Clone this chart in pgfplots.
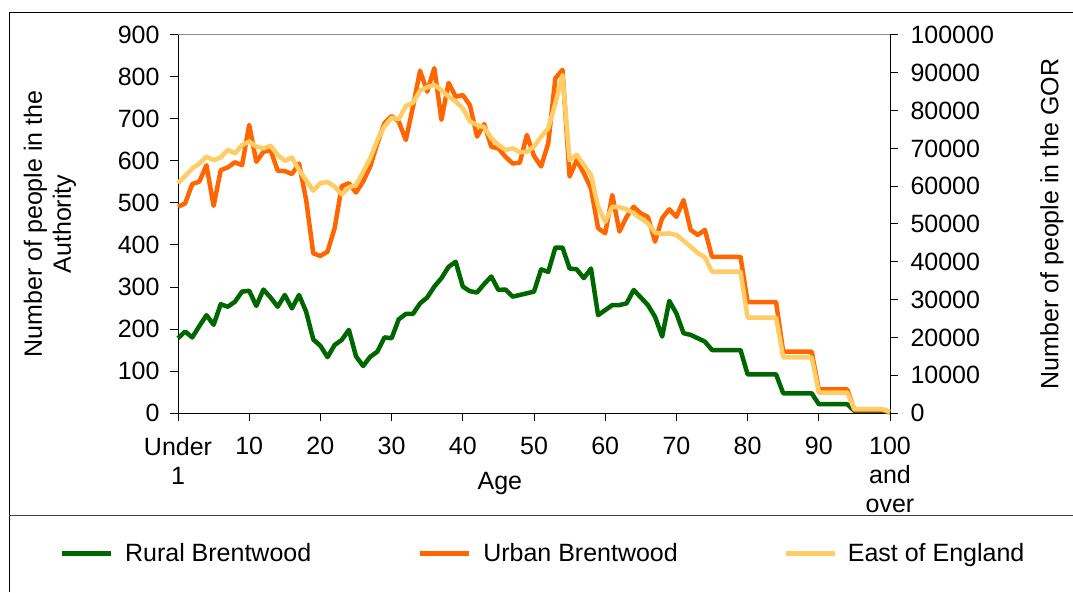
\documentclass[border=0pt]{standalone}
\usepackage{fontspec}
\setmainfont{Liberation Sans}
\usepackage{pgfplots}
\pgfplotsset{compat=1.18}
\definecolor{rural}{HTML}{006600}
\definecolor{urban}{HTML}{FF6600}
\definecolor{east}{HTML}{FFCC66}
\begin{document}
\begin{tikzpicture}[x=1pt,y=1pt,font=\fontsize{25}{29}\selectfont]
\useasboundingbox (0,0) rectangle (1073,592);
\draw[black, line width=1pt] (9,0) -- (9,579) -- (1073,579);
\draw[black!75, line width=1pt] (9,77) -- (1073,77);
\pgfplotsset{
  every axis/.append style={
    scale only axis, width=712pt, height=378pt,
    at={(178pt,179pt)}, anchor=south west,
    xmin=0, xmax=100, clip=false,
    tick align=outside, major tick length=8pt,
    axis line style={line width=1pt},
    every tick/.style={black, line width=1pt},
    /pgf/number format/fixed,
    /pgf/number format/precision=0,
    /pgf/number format/assume math mode=true,
    /pgf/number format/1000 sep={},
    scaled y ticks=false,
  },
  every axis plot/.append style={line width=4.5pt, line join=round, mark=none},
}
\begin{axis}[
  axis y line*=left, axis x line*=bottom,
  ymin=0, ymax=900, ytick={0,100,...,900},
  xtick={0,10,...,100},
  xticklabels={{Under\\1},10,20,30,40,50,60,70,80,90,{100\\and\\over}},
  xticklabel style={align=center, yshift=-13pt},
  yticklabel style={xshift=-7pt},
  xlabel={Age},
  xlabel style={at={(axis description cs:0.452,-0.186)}, anchor=center},
  ylabel={Number of people in the\\Authority},
  ylabel style={align=center, at={(axis description cs:-0.18,0.5)}, anchor=center},
]
\addplot[rural] coordinates {
(0,178)(1,194)(2,180)(3,207)(4,233)(5,210)(6,259)(7,253)(8,265)(9,289)
(10,291)(11,255)(12,294)(13,275)(14,253)(15,281)(16,249)(17,281)(18,241)(19,175)
(20,160)(21,133)(22,162)(23,174)(24,198)(25,135)(26,112)(27,134)(28,146)(29,180)
(30,178)(31,223)(32,236)(33,236)(34,261)(35,275)(36,301)(37,321)(38,348)(39,360)
(40,301)(41,290)(42,287)(43,307)(44,325)(45,293)(46,294)(47,277)(48,281)(49,285)
(50,289)(51,342)(52,336)(53,394)(54,394)(55,344)(56,342)(57,321)(58,344)(59,233)
(60,245)(61,257)(62,257)(63,261)(64,293)(65,275)(66,257)(67,229)(68,182)(69,267)
(70,237)(71,190)(72,186)(73,178)(74,170)(75,150)(76,150)(77,150)(78,150)(79,150)
(80,92)(81,92)(82,92)(83,92)(84,92)(85,47)(86,47)(87,47)(88,47)(89,47)
(90,21)(91,21)(92,21)(93,21)(94,21)(95,5)(96,5)(97,5)(98,5)(99,5)(100,2)
};
\addplot[urban] coordinates {
(0,491)(1,499)(2,545)(3,551)(4,590)(5,493)(6,578)(7,585)(8,597)(9,590)
(10,686)(11,598)(12,622)(13,626)(14,577)(15,576)(16,569)(17,594)(18,507)(19,380)
(20,374)(21,384)(22,440)(23,540)(24,547)(25,525)(26,551)(27,587)(28,642)(29,690)
(30,707)(31,694)(32,650)(33,729)(34,815)(35,765)(36,821)(37,698)(38,786)(39,753)
(40,757)(41,733)(42,658)(43,688)(44,634)(45,630)(46,610)(47,594)(48,596)(49,662)
(50,612)(51,587)(52,642)(53,797)(54,817)(55,563)(56,602)(57,571)(58,535)(59,440)
(60,428)(61,519)(62,432)(63,467)(64,491)(65,475)(66,467)(67,408)(68,464)(69,485)
(70,467)(71,507)(72,436)(73,424)(74,436)(75,372)(76,372)(77,372)(78,372)(79,372)
(80,264)(81,264)(82,264)(83,264)(84,264)(85,146)(86,146)(87,146)(88,146)(89,146)
(90,56)(91,56)(92,56)(93,56)(94,56)(95,7)(96,7)(97,7)(98,7)(99,7)(100,2)
};
\draw[black!45, line width=1pt] (rel axis cs:0,1) -- (rel axis cs:1,1);
\end{axis}
\begin{axis}[
  axis y line*=right, axis x line=none,
  ymin=0, ymax=100000, ytick={0,10000,...,100000},
  yticklabel style={xshift=9pt},
  ylabel={Number of people in the GOR},
  ylabel style={at={(axis description cs:1.2275,0.5)}, anchor=center},
  legend columns=3,
  legend style={at={(axis description cs:-0.167,-0.372)}, anchor=west,
    draw=none, fill=none, inner sep=0pt, outer sep=0pt,
    /tikz/every even column/.append style={column sep=106pt},
    nodes={inner sep=0pt, outer sep=0pt}},
  legend cell align=left,
  legend image code/.code={\draw[#1, line width=5pt] (0pt,0pt) -- (49pt,0pt);},
]
\addlegendimage{rural, line width=5pt}
\addlegendentry{\hspace{12pt}Rural Brentwood}
\addlegendimage{urban, line width=5pt}
\addlegendentry{\hspace{12pt}Urban Brentwood}
\addplot[east] coordinates {
(0,60800)(1,62700)(2,64700)(3,66000)(4,67800)(5,66900)(6,67600)(7,69600)(8,68700)(9,70900)
(10,71800)(11,70500)(12,70000)(13,70700)(14,68300)(15,66700)(16,67600)(17,64300)(18,61600)(19,58800)
(20,60800)(21,61100)(22,59900)(23,57800)(24,59700)(25,60300)(26,63800)(27,67400)(28,72200)(29,75800)
(30,78100)(31,77700)(32,81200)(33,82100)(34,85300)(35,86200)(36,86800)(37,85400)(38,83700)(39,82400)
(40,80600)(41,77100)(42,76200)(43,75600)(44,72700)(45,70900)(46,69600)(47,70000)(48,69000)(49,69100)
(50,70500)(51,73100)(52,75300)(53,81900)(54,89400)(55,66900)(56,68300)(57,65600)(58,63000)(59,54600)
(60,50600)(61,54600)(62,54400)(63,53900)(64,52800)(65,51500)(66,50200)(67,47700)(68,47400)(69,47500)
(70,47100)(71,45600)(72,44000)(73,42300)(74,41200)(75,37400)(76,37400)(77,37400)(78,37400)(79,37400)
(80,25200)(81,25200)(82,25200)(83,25200)(84,25200)(85,14700)(86,14700)(87,14700)(88,14700)(89,14700)
(90,5400)(91,5400)(92,5400)(93,5400)(94,5400)(95,1000)(96,1000)(97,1000)(98,1000)(99,1000)(100,300)
};
\addlegendentry{\hspace{10pt}East of England}
\end{axis}
\end{tikzpicture}
\end{document}
